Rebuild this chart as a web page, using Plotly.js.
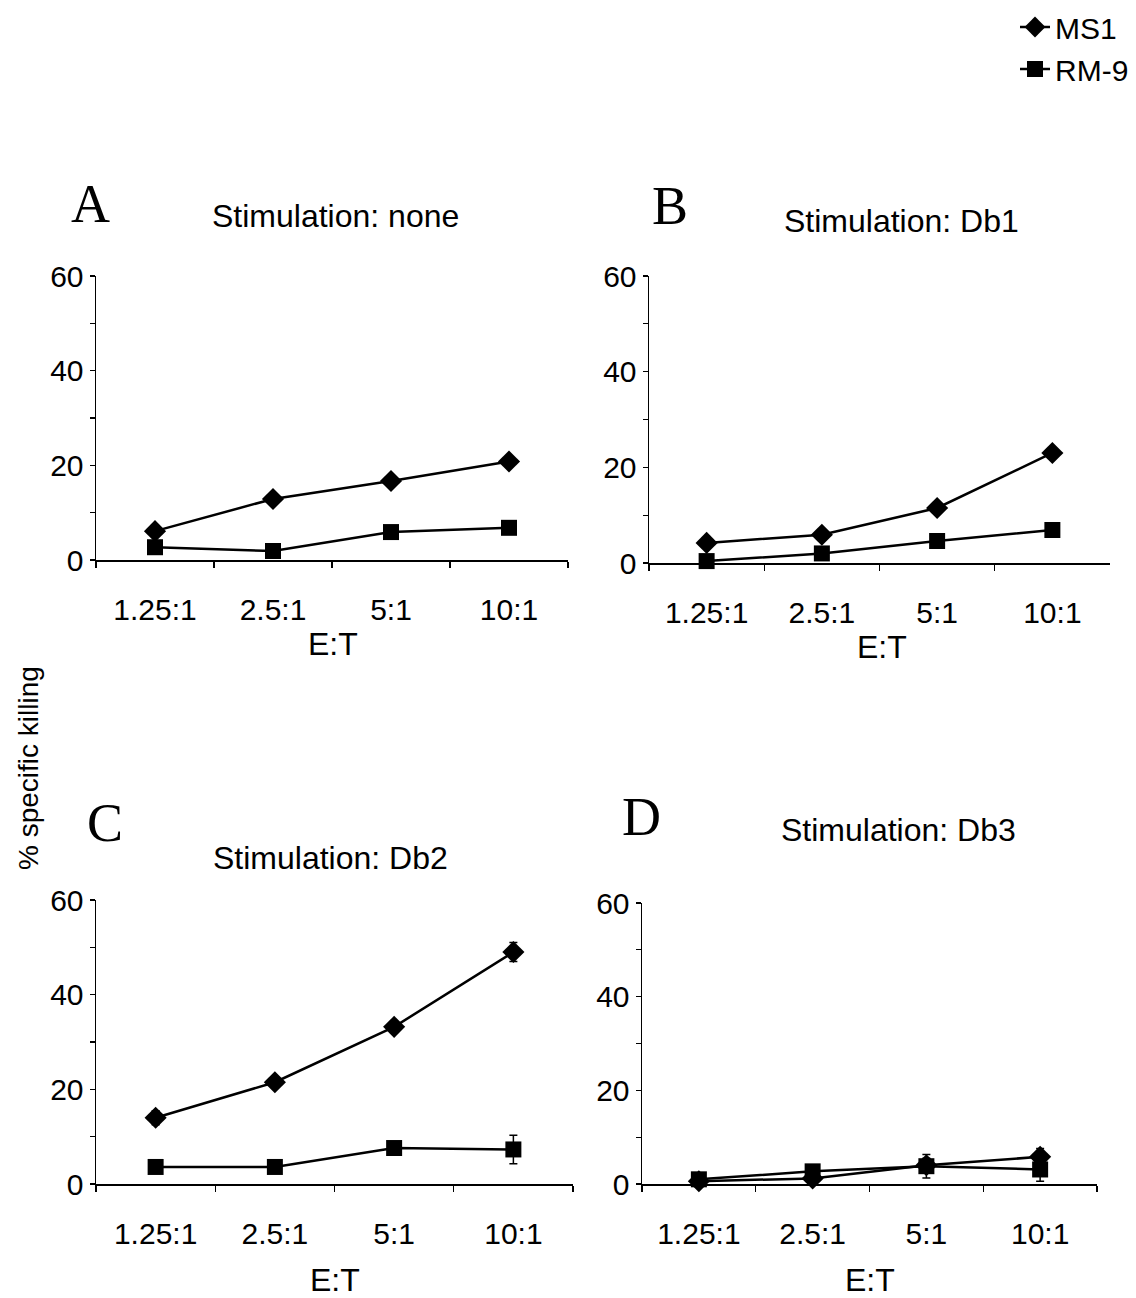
<!DOCTYPE html>
<html>
<head>
<meta charset="utf-8">
<script src="https://cdn.plot.ly/plotly-3.0.1.min.js"></script>
<style>html,body{margin:0;padding:0;background:#fff;}#chart{width:1136px;height:1298px;}</style>
</head>
<body>
<div id="chart"></div>
<script>
// ---- data ----
const ratios = ['1.25:1', '2.5:1', '5:1', '10:1'];
const seriesNames = ['MS1', 'RM-9'];
const panelLetters = ['A', 'B', 'C', 'D'];
const stimulations = ['none', 'Db1', 'Db2', 'Db3'];

const ms1_none = [6.1, 12.9, 16.7, 20.8];
const rm9_none = [2.7, 1.9, 5.9, 6.8];
const ms1_none_err = [0.5, 0.5, 0.6, 1.0];
const rm9_none_err = [0.5, 0.5, 0.5, 1.2];

const ms1_db1 = [4.2, 5.9, 11.5, 23.0];
const rm9_db1 = [0.4, 2.0, 4.6, 6.9];
const ms1_db1_err = [0.5, 0.5, 0.8, 1.0];
const rm9_db1_err = [0.5, 0.5, 0.5, 0.8];

const ms1_db2 = [14.0, 21.5, 33.2, 49.0];
const rm9_db2 = [3.6, 3.6, 7.6, 7.3];
const ms1_db2_err = [1.5, 1.0, 1.0, 2.0];
const rm9_db2_err = [0.5, 0.5, 0.5, 3.0];

const ms1_db3 = [0.6, 1.2, 4.0, 5.8];
const rm9_db3 = [1.0, 2.7, 3.8, 3.1];
const ms1_db3_err = [0.5, 0.5, 1.5, 1.8];
const rm9_db3_err = [0.5, 0.5, 2.5, 2.5];

const yTickVals = [0, 10, 20, 30, 40, 50, 60];
const yTickText = ['0', '', '20', '', '40', '', '60'];
const xTitle = 'E:T';
const yTitle = '% specific killing';

// ---- layout helpers ----
const W = 1136, H = 1298;
const px = v => v / W;
const py = v => 1 - v / H;

const panels = [
  {ms1: ms1_none, rm9: rm9_none, e1: ms1_none_err, e2: rm9_none_err, x0: 96, x1: 568, yTop: 276, yBot: 560,
   letter: [90, 204], title: [335, 216], et: [333, 644]},
  {ms1: ms1_db1, rm9: rm9_db1, e1: ms1_db1_err, e2: rm9_db1_err, x0: 649, x1: 1110, yTop: 276, yBot: 563,
   letter: [670, 206], title: [901, 221], et: [882, 647]},
  {ms1: ms1_db2, rm9: rm9_db2, e1: ms1_db2_err, e2: rm9_db2_err, x0: 96, x1: 573, yTop: 900, yBot: 1184,
   letter: [105, 823], title: [330, 858], et: [335, 1280]},
  {ms1: ms1_db3, rm9: rm9_db3, e1: ms1_db3_err, e2: rm9_db3_err, x0: 642, x1: 1097, yTop: 903, yBot: 1184,
   letter: [641, 817], title: [898, 830], et: [870, 1280]}
];

const FONT = 'Arial, "Liberation Sans", sans-serif';
const SERIF = '"Times New Roman", "Liberation Serif", serif';

const traces = [];
const layout = {
  width: W, height: H,
  margin: {l: 0, r: 0, t: 0, b: 0},
  paper_bgcolor: '#fff', plot_bgcolor: '#fff',
  font: {family: FONT, color: '#000', size: 30},
  showlegend: true,
  legend: {
    x: px(1015), y: py(1), xanchor: 'left', yanchor: 'top',
    bgcolor: 'rgba(0,0,0,0)', borderwidth: 0,
    font: {family: FONT, size: 30, color: '#000'},
    itemwidth: 30, tracegroupgap: 0
  },
  annotations: [],
};

panels.forEach((p, i) => {
  const n = i === 0 ? '' : String(i + 1);
  const xa = 'x' + n, ya = 'y' + n;
  const common = {
    xaxis: xa, yaxis: ya, type: 'scatter', mode: 'lines+markers', x: ratios,
    cliponaxis: false
  };
  traces.push(Object.assign({}, common, {
    name: seriesNames[0], y: p.ms1, showlegend: i === 0,
    line: {color: '#000', width: 2.5},
    marker: {symbol: 'diamond', size: 17, color: '#000'},
    error_y: {type: 'data', array: p.e1, visible: true, color: '#000', thickness: 1.5, width: 4}
  }));
  traces.push(Object.assign({}, common, {
    name: seriesNames[1], y: p.rm9, showlegend: i === 0,
    line: {color: '#000', width: 2.5},
    marker: {symbol: 'square', size: 16, color: '#000'},
    error_y: {type: 'data', array: p.e2, visible: true, color: '#000', thickness: 1.5, width: 4}
  }));

  layout['xaxis' + n] = {
    domain: [px(p.x0), px(p.x1)], anchor: ya,
    type: 'category', categoryorder: 'array', categoryarray: ratios,
    range: [-0.5, 3.5], tickson: 'boundaries',
    ticks: 'outside', ticklen: 6, tickwidth: 1.2, tickcolor: '#000',
    showline: true, linecolor: '#000', linewidth: 1.5,
    showgrid: false, zeroline: false, automargin: false,
    ticklabelstandoff: 22,
    tickfont: {family: FONT, size: 30, color: '#000'}
  };
  layout['yaxis' + n] = {
    domain: [py(p.yBot), py(p.yTop)], anchor: xa,
    range: [0, 60], tickmode: 'array', tickvals: yTickVals, ticktext: yTickText,
    ticks: 'outside', ticklen: 5, tickwidth: 1.2, tickcolor: '#000',
    showline: true, linecolor: '#000', linewidth: 1.5,
    showgrid: false, zeroline: false, automargin: false,
    ticklabelstandoff: 0,
    tickfont: {family: FONT, size: 30, color: '#000'}
  };

  layout.annotations.push({
    xref: 'paper', yref: 'paper', x: px(p.letter[0]), y: py(p.letter[1]),
    xanchor: 'center', yanchor: 'middle', showarrow: false,
    text: panelLetters[i], font: {family: SERIF, size: 54, color: '#000'}
  });
  layout.annotations.push({
    xref: 'paper', yref: 'paper', x: px(p.title[0]), y: py(p.title[1]),
    xanchor: 'center', yanchor: 'middle', showarrow: false,
    text: 'Stimulation: ' + stimulations[i], font: {family: FONT, size: 32, color: '#000'}
  });
  layout.annotations.push({
    xref: 'paper', yref: 'paper', x: px(p.et[0]), y: py(p.et[1]),
    xanchor: 'center', yanchor: 'middle', showarrow: false,
    text: xTitle, font: {family: FONT, size: 32, color: '#000'}
  });
});

layout.annotations.push({
  xref: 'paper', yref: 'paper', x: px(28), y: py(768),
  xanchor: 'center', yanchor: 'middle', showarrow: false, textangle: -90,
  text: yTitle, font: {family: FONT, size: 28, color: '#000'}
});

Plotly.newPlot('chart', traces, layout, {staticPlot: true, displayModeBar: false});
</script>
</body>
</html>
